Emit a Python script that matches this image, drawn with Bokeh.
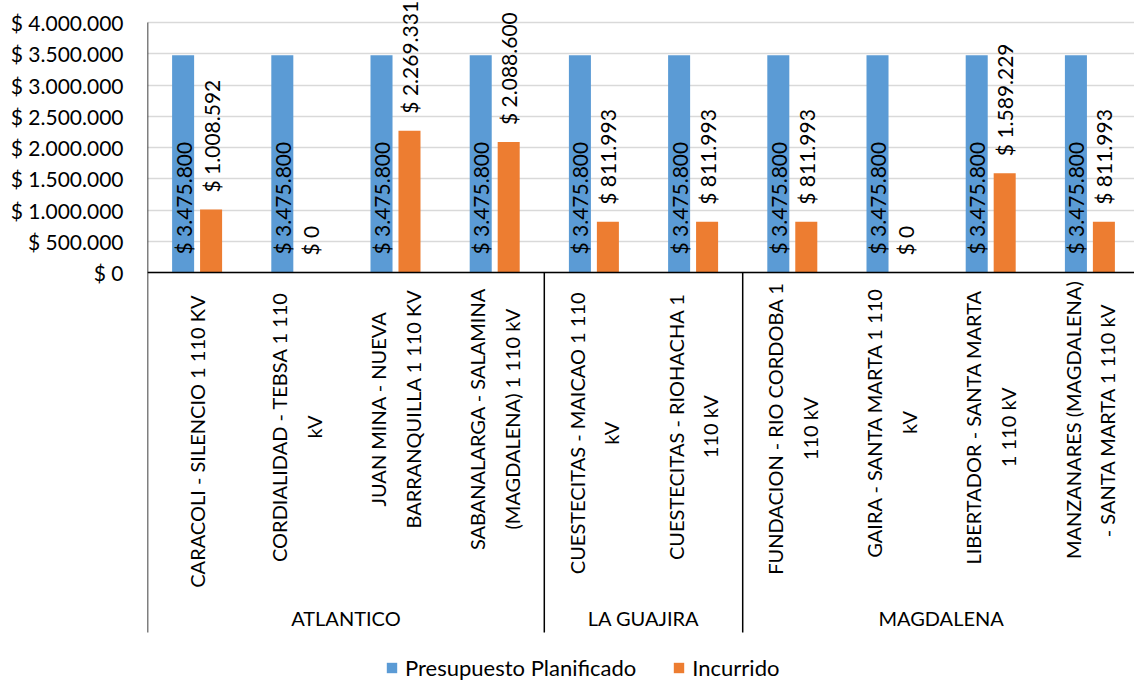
import math
from bokeh.plotting import figure
from bokeh.models import Range1d, FixedTicker, Span, Legend, LegendItem, ColumnDataSource
from bokeh.core.properties import value
from bokeh.embed import file_html
from bokeh.resources import INLINE

# ---------------- data ----------------
categories = [
    "CARACOLI - SILENCIO 1 110 KV",
    "CORDIALIDAD - TEBSA 1 110\nkV",
    "JUAN MINA - NUEVA\nBARRANQUILLA 1 110 KV",
    "SABANALARGA - SALAMINA\n(MAGDALENA) 1 110 kV",
    "CUESTECITAS - MAICAO 1 110\nkV",
    "CUESTECITAS - RIOHACHA 1\n110 kV",
    "FUNDACION - RIO CORDOBA 1\n110 kV",
    "GAIRA - SANTA MARTA 1 110\nkV",
    "LIBERTADOR - SANTA MARTA\n1 110 kV",
    "MANZANARES (MAGDALENA)\n- SANTA MARTA 1 110 kV",
]
groups = ["ATLANTICO", "LA GUAJIRA", "MAGDALENA"]
group_sizes = [4, 2, 4]
planificado = [3475800, 3475800, 3475800, 3475800, 3475800,
               3475800, 3475800, 3475800, 3475800, 3475800]
incurrido = [1008592, 0, 2269331, 2088600, 811993,
             811993, 811993, 0, 1589229, 811993]
series_names = ["Presupuesto Planificado", "Incurrido"]
y_ticks = [0, 500000, 1000000, 1500000, 2000000, 2500000, 3000000, 3500000, 4000000]
y_tick_labels = ["$ 0", "$ 500.000", "$ 1.000.000", "$ 1.500.000", "$ 2.000.000",
                 "$ 2.500.000", "$ 3.000.000", "$ 3.500.000", "$ 4.000.000"]

# ---------------- style ----------------
BLUE = "#5B9BD5"
ORANGE = "#ED7D31"
FONT = "Lato"
FS_NUM = 21      # tick labels and value labels
FS_CAT = 20      # category / group labels
FS_LEG = 22      # legend
W, H = 1134, 681
LEFT, TOP = 147, 22
PX_PER_CAT = 99.2
PX_PER_MILLION = 62.5
BASE_PX = TOP + 4 * PX_PER_MILLION  # pixel row of value 0

frame_w = W - LEFT
frame_h = H
upp = 1e6 / PX_PER_MILLION  # data units per pixel
ymax = y_ticks[-1] + TOP * upp
ymin = ymax - frame_h * upp
xmax = frame_w / PX_PER_CAT


def fmt(v):
    return "$ " + f"{v:,}".replace(",", ".")


def px_to_y(py):
    return -(py - BASE_PX) * upp


def est_width(s, fs):
    w = 0.0
    for c in s:
        if c.isupper():
            w += 0.64
        elif c.islower():
            w += 0.50
        elif c.isdigit():
            w += 0.58
        elif c == " ":
            w += 0.19
        elif c == "-":
            w += 0.32
        elif c in "()":
            w += 0.31
        else:
            w += 0.3
    return w * fs


p = figure(width=W, height=H, output_backend="svg", toolbar_location=None,
           x_range=Range1d(0, xmax), y_range=Range1d(ymin, ymax),
           x_axis_type=None, min_border_left=LEFT, min_border_right=0,
           min_border_top=0, min_border_bottom=0)
p.outline_line_color = None
p.background_fill_color = "white"
p.border_fill_color = "white"

ticker = FixedTicker(ticks=y_ticks)
ax = p.yaxis[0]
ax.ticker = ticker
ax.major_label_overrides = {t: l for t, l in zip(y_ticks, y_tick_labels)}
ax.axis_line_color = None
ax.major_tick_line_color = None
ax.minor_tick_line_color = None
ax.major_tick_out = 0
ax.major_tick_in = 0
ax.major_label_standoff = 24
ax.major_label_text_font = FONT
ax.major_label_text_font_size = f"{FS_NUM}px"
ax.major_label_text_color = "black"

p.ygrid.ticker = ticker
p.ygrid.grid_line_color = "#d9d9d9"
p.ygrid.grid_line_width = 1.5
p.xgrid.grid_line_color = None

n = len(categories)
offset = 0.141
bw = 0.222
xc = [i + 0.5 for i in range(n)]
src = ColumnDataSource(dict(
    xb=[x - offset for x in xc],
    xo=[x + offset for x in xc],
    plan=planificado,
    inc=incurrido,
    plan_lbl=[fmt(v) for v in planificado],
    inc_lbl=[fmt(v) for v in incurrido],
    plan_ly=[18 * upp for _ in planificado],
    inc_ly=[v + 17 * upp for v in incurrido],
))

rb = p.vbar(x="xb", top="plan", width=bw, bottom=0, source=src,
            fill_color=BLUE, line_color=None)
ro = p.vbar(x="xo", top="inc", width=bw, bottom=0, source=src,
            fill_color=ORANGE, line_color=None)

txt_kw = dict(angle=math.pi / 2, text_align="left", text_baseline="middle",
              text_font=value(FONT), text_font_size=f"{FS_NUM}px", text_color="black")
p.text(x="xb", y="plan_ly", text="plan_lbl", source=src, **txt_kw)
p.text(x="xo", y="inc_ly", text="inc_lbl", source=src, **txt_kw)

# baseline
p.add_layout(Span(location=0, dimension="width", line_color="black", line_width=1.5))

# category labels (centered lines, block top near axis)
lab_y = []
for c in categories:
    L = max(est_width(s, FS_CAT) for s in c.split("\n"))
    lab_y.append(px_to_y(BASE_PX + 18 + L / 2))
p.text(x=xc, y=lab_y, text=categories, angle=math.pi / 2, text_align="center",
       text_baseline="middle", text_font=value(FONT), text_font_size=f"{FS_CAT}px",
       text_color="black", text_line_height=1.45)

# group separators and labels
bottom_y = px_to_y(632)
bounds = [0]
for s in group_sizes:
    bounds.append(bounds[-1] + s)
p.segment(x0=[bounds[0]], y0=[y_ticks[-1]], x1=[bounds[0]], y1=[bottom_y],
          line_color="black", line_width=1.5)
p.segment(x0=bounds[1:], y0=[0] * len(group_sizes), x1=bounds[1:],
          y1=[bottom_y] * len(group_sizes), line_color="black", line_width=1.5)
gx = [(bounds[i] + bounds[i + 1]) / 2 for i in range(len(groups))]
p.text(x=gx, y=[px_to_y(617)] * len(groups), text=groups, text_align="center",
       text_baseline="middle", text_font=value(FONT), text_font_size=f"{FS_CAT}px",
       text_color="black")

legend = Legend(items=[LegendItem(label=series_names[0], renderers=[rb]),
                       LegendItem(label=series_names[1], renderers=[ro])],
                orientation="horizontal", location=(238, 0),
                glyph_width=13, glyph_height=13, label_standoff=7, spacing=36,
                padding=0, margin=0, border_line_color=None, background_fill_alpha=0,
                label_text_font=FONT, label_text_font_size=f"{FS_LEG}px",
                label_text_color="black")
p.add_layout(legend)

open("out.html", "w").write(file_html(p, INLINE))
